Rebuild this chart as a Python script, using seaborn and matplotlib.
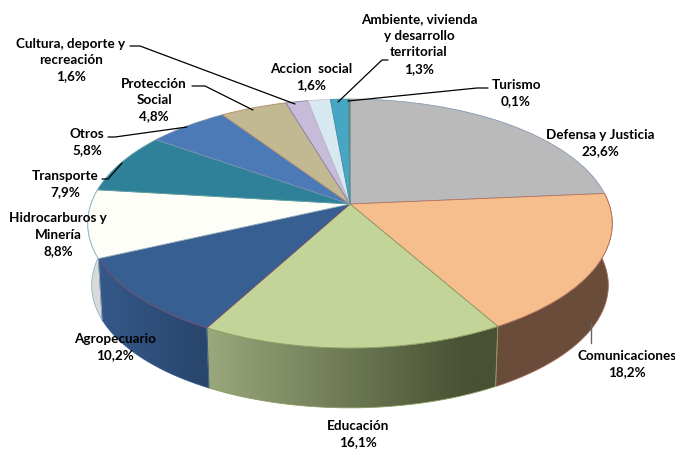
import matplotlib
matplotlib.use("Agg")
import matplotlib.pyplot as plt
import matplotlib.transforms as mtransforms
import numpy as np
import seaborn as sns
from matplotlib.colors import to_rgb
from matplotlib.patches import Polygon

categories = [
    "Defensa y Justicia", "Comunicaciones", "Educación", "Agropecuario",
    "Hidrocarburos y\nMinería", "Transporte", "Otros", "Protección\nSocial",
    "Cultura, deporte y\nrecreación", "Accion  social",
    "Ambiente, vivienda\ny desarrollo\nterritorial", "Turismo",
]
values = [23.6, 18.2, 16.1, 10.2, 8.8, 7.9, 5.8, 4.8, 1.6, 1.6, 1.3, 0.1]
value_labels = ["23,6%", "18,2%", "16,1%", "10,2%", "8,8%", "7,9%",
                "5,8%", "4,8%", "1,6%", "1,6%", "1,3%", "0,1%"]

top_colors = ["#bababa", "#f6bd8d", "#c3d498", "#375f91", "#fdfef8", "#2f8199",
              "#4c7ab6", "#c2b992", "#c6bbd8", "#d8e8f0", "#46a7c5", "#5f8a80"]
edge_colors = ["#8499b3", "#b5715a", "#8c9c62", "#7d4a6a", "#8fb3c4", "#5e9e9e",
               "#7a8fb0", "#b08a6a", "#8a7fa8", "#c0c8d0", "#3f8fa8", "#5f8a80"]
# wall shading (left colour, right colour), only the front slices show a wall
wall_colors = {
    1: ("#6a4c3a", "#6a4c3a"),
    2: ("#9aa87c", "#485133"),
    3: ("#36598a", "#29466f"),
    4: ("#dadada", "#dadada"),
}
wall_edges = {1: "#a5705c", 2: "#8c9c62", 3: "#36598a", 4: "#8fb3c4"}

label_pos = [(600, 143), (627, 364), (358, 434), (115, 347), (58, 235), (65, 184),
             (87, 142), (154, 100), (71, 60), (311, 77), (419, 44), (516, 93)]
leaders = [
    [(130, 46), (140, 46), (295, 104)],
    [(192, 86), (205, 86), (253, 110)],
    [(108, 137), (115, 137), (187, 127)],
    [(102, 179), (108, 179), (122, 163)],
    [(388, 60), (382, 60), (338, 102)],
    [(488, 88), (477, 88), (348, 101)],
]

# pie geometry in picture pixels
CX, CY = 350, 204
RX, RY, TILT = 259, 121.4, 0.157
WALL_SCALE, WALL_DROP = 0.985, 62


def project(x, y):
    w = 1 + TILT * y
    return CX + RX * x / w, CY - RY * y / w


class Perspective(mtransforms.Transform):
    input_dims = output_dims = 2
    is_separable = False
    has_inverse = False

    def transform_non_affine(self, values):
        xs, ys = project(values[:, 0], values[:, 1])
        return np.column_stack([xs, ys])


sns.set_theme(style="white")
plt.rcParams["font.family"] = ["Lato", "DejaVu Sans"]

fig = plt.figure(figsize=(6.75, 4.49), dpi=100)
ax = fig.add_axes([0, 0, 1, 1])

wedges, _ = ax.pie(values, colors=sns.color_palette(top_colors), startangle=90,
                   counterclock=False, radius=1,
                   wedgeprops={"linewidth": 0.6, "zorder": 3})
for wedge, edge in zip(wedges, edge_colors):
    wedge.set_transform(Perspective() + ax.transData)
    wedge.set_edgecolor(edge)

# side wall: a horizontal gradient clipped to each slice's outline
cum = np.concatenate([[0], np.cumsum(values)]) / sum(values)
for i, (left_col, right_col) in wall_colors.items():
    t = np.pi / 2 - 2 * np.pi * np.linspace(cum[i], cum[i + 1], 80)
    xs, ys = project(np.cos(t), np.sin(t))
    xb = CX + WALL_SCALE * (xs - CX)
    yb = CY + WALL_SCALE * (ys - CY) + WALL_DROP
    outline = np.column_stack([np.r_[xs, xb[::-1]], np.r_[ys, yb[::-1]]])
    wall = Polygon(outline, closed=True, facecolor="none",
                   edgecolor=wall_edges[i], linewidth=0.6, zorder=2.1)
    ax.add_patch(wall)
    x0, x1 = outline[:, 0].min(), outline[:, 0].max()
    ramp = np.clip(np.linspace(0, 1.12, 200), 0, 1)[None, :, None]
    rgb = np.array(to_rgb(left_col)) * (1 - ramp) + np.array(to_rgb(right_col)) * ramp
    img = ax.imshow(rgb, extent=(x0, x1, outline[:, 1].max(), outline[:, 1].min()),
                    aspect="auto", zorder=2)
    img.set_clip_path(wall)

ax.set_aspect("auto")
ax.set_xlim(0, 675)
ax.set_ylim(449, 0)
ax.axis("off")

for pts in leaders:
    ax.plot(*zip(*pts), color="black", lw=0.9, zorder=4)
ax.plot([591, 591], [322, 343], color="#666666", lw=1.0, zorder=4)

for name, val, (x, y) in zip(categories, value_labels, label_pos):
    ax.text(x, y, f"{name}\n{val}", ha="center", va="center", fontsize=9.7,
            fontweight="bold", color="black", linespacing=1.45, zorder=5)

fig.savefig("out.png", dpi=100)
